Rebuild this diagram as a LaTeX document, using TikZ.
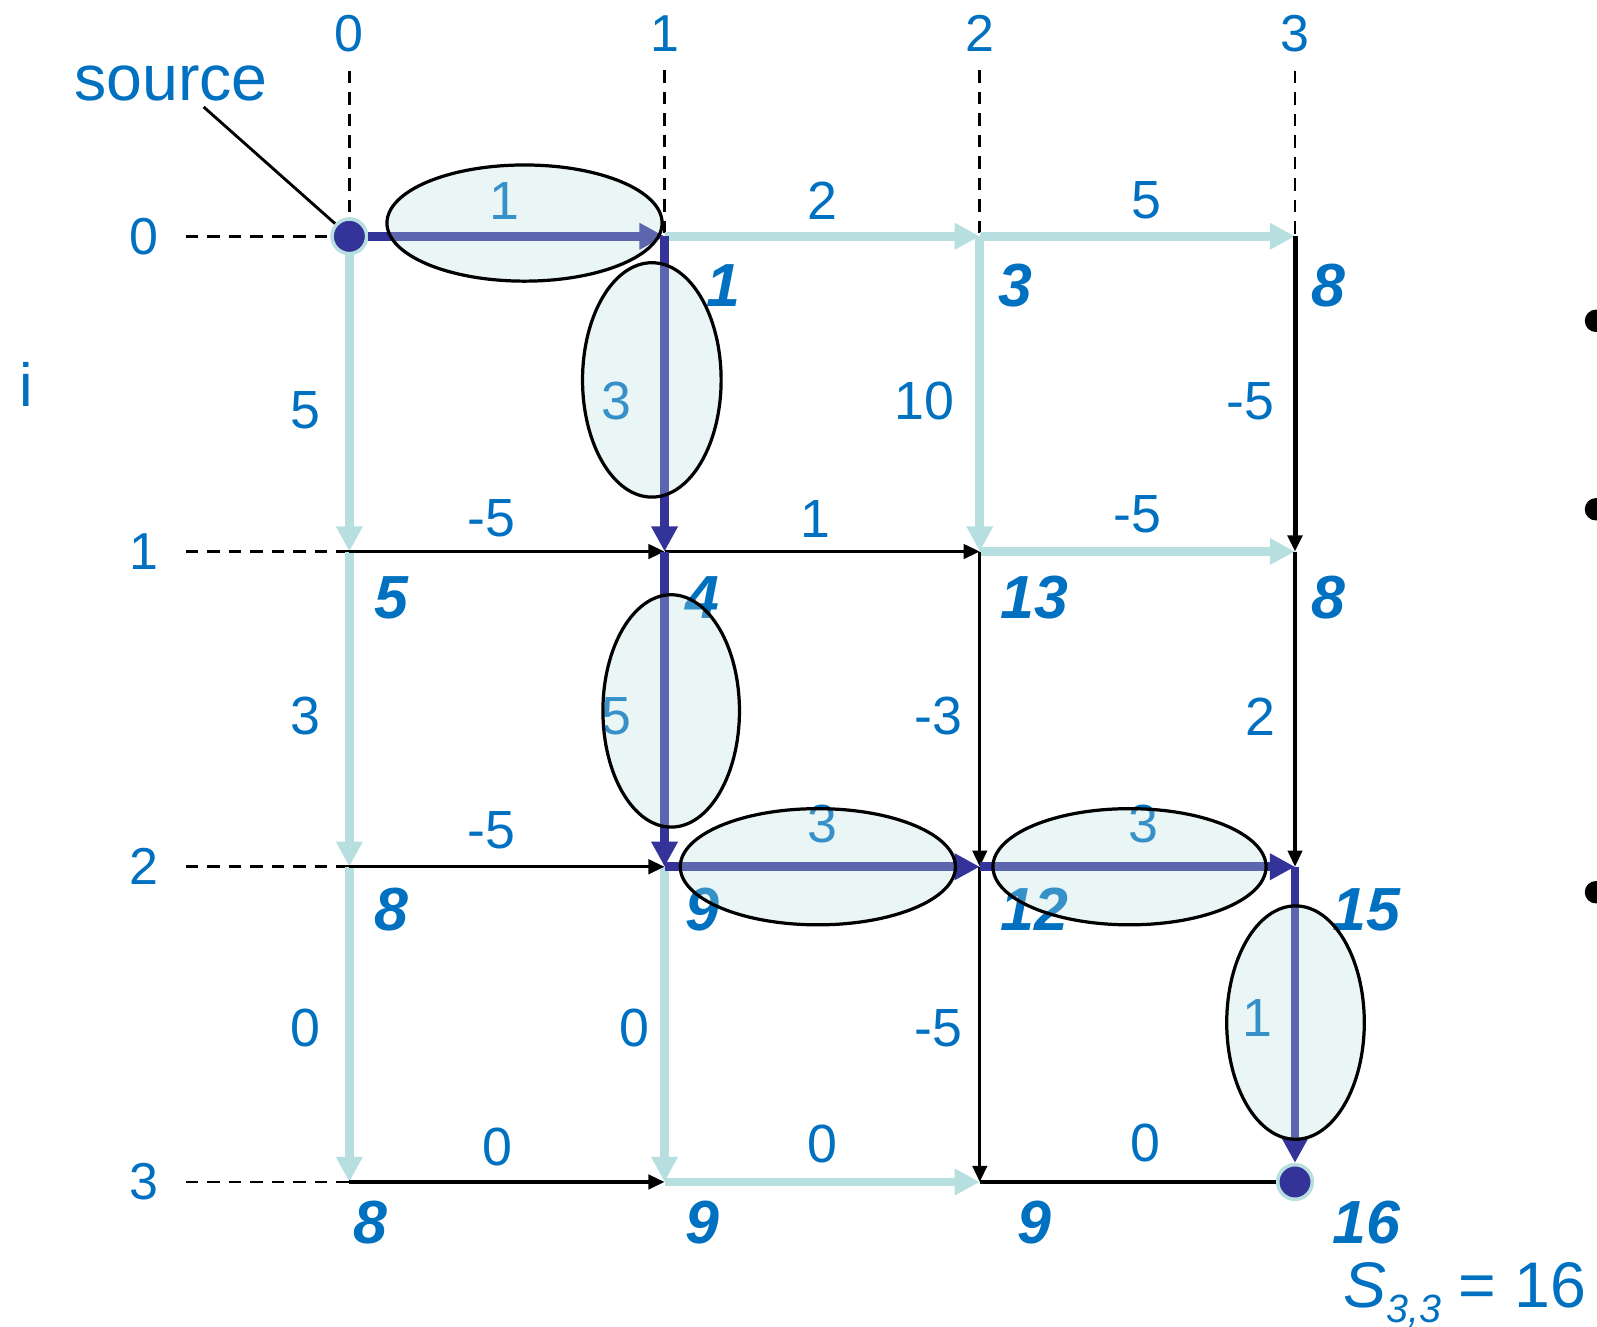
\documentclass[tikz,border=0pt]{standalone}
\usepackage{fontspec}
\setmainfont{Liberation Sans}
\usetikzlibrary{arrows.meta,positioning,shapes.geometric}
\definecolor{pathblue}{RGB}{51,51,153}
\definecolor{litedge}{RGB}{184,223,224}
\definecolor{labblue}{RGB}{0,112,192}

\begin{document}
\begin{tikzpicture}[
  x=0.01cm, y=-0.01cm,
  hfont/.style={text=labblue, inner sep=0pt, font=\fontsize{14.5}{15}\selectfont},
  wlab/.style={text=labblue, inner sep=0pt, font=\fontsize{15}{16}\selectfont},
  score/.style={text=labblue, inner sep=0pt, font=\fontsize{17}{18}\selectfont\bfseries\itshape},
  lite/.style={draw=litedge, line width=2.4pt, -{Triangle[length=7pt,width=7pt]}},
  best/.style={draw=pathblue, line width=2.4pt, -{Triangle[length=7pt,width=7pt]}},
  plain/.style={draw=black, line width=0.9pt, -{Triangle[length=4.5pt,width=4pt]}},
  guide/.style={draw=black, line width=0.75pt, dash pattern=on 3.5pt off 2.5pt},
  hl/.style={ellipse, draw=black, line width=0.9pt, fill=litedge, fill opacity=0.3, inner sep=0pt},
  endpt/.style={circle, fill=pathblue, draw=litedge, line width=1pt, minimum size=0.34cm, inner sep=0pt}
]
\useasboundingbox (0,0) rectangle (1568,1302);

% grid points
\foreach \i in {0,...,3}{
  \foreach \j in {0,...,3}{
    \coordinate (v\i\j) at ({343+309.5*\j},{232+309.5*\i});
  }
}

% headers
\foreach \j in {0,...,3}
  \node[hfont] (c\j) at ({343+309.5*\j},33) {\j};
\foreach \i in {0,...,3}
  \node[hfont] (r\i) at (141,{232+309.5*\i}) {\i};
\node[hfont, font=\fontsize{17}{18}\selectfont] (ilab) at (26,377) {i};
\node[text=labblue, inner sep=0pt, font=\fontsize{18}{19}\selectfont] (srclab) at (168,82) {source};

\node[endpt] (src) at (v00) {};
\node[endpt] (snk) at (v33) {};

% guides
\draw[guide] ([yshift=-5pt]c0.south) -- (src);
\draw[guide] ([yshift=-5pt]c1.south) -- (v01);
\draw[guide] ([yshift=-5pt]c2.south) -- (v02);
\draw[guide] ([yshift=-5pt]c3.south) -- (v03);
\draw[guide] ([xshift=7.5pt]r0.east) -- (src);
\draw[guide] ([xshift=7.5pt]r1.east) -- (v10);
\draw[guide] ([xshift=7.5pt]r2.east) -- (v20);
\draw[guide] ([xshift=7.5pt]r3.east) -- (v30);
\draw[line width=0.8pt] ([shift={(32,5)}]srclab.south) -- (src);

% light edges
\draw[lite] (v01) -- node[wlab, above=3.5pt] {2} (v02);
\draw[lite] (v02) -- node[wlab, above=3.5pt, pos=0.53] {5} (v03);
\draw[lite] (v12) -- node[wlab, above=4pt] {-5} (v13);
\draw[lite] (v31) -- node[wlab, above=4pt] {0} (v32);
\draw[lite] (src) -- node[wlab, left=7pt, yshift=-2pt] {5} (v10);
\draw[lite] (v10) -- node[wlab, left=7pt, yshift=-2pt] {3} (v20);
\draw[lite] (v20) -- node[wlab, left=7pt, yshift=-1pt] {0} (v30);
\draw[lite] (v21) -- node[wlab, left=3pt, yshift=-1pt] {0} (v31);
\draw[lite] (v02) -- node[wlab, left=6pt, yshift=-2pt] {10} (v12);

% black edges
\draw[plain] (v10) -- node[wlab, above=3.5pt, pos=0.45] {-5} (v11);
\draw[plain] (v11) -- node[wlab, above=3.5pt, pos=0.48] {1} (v12);
\draw[plain] (v20) -- node[wlab, above=4.5pt, pos=0.45] {-5} (v21);
\draw[plain] (v30) -- node[wlab, above=4pt, pos=0.47] {0} (v31);
\draw[plain, -] (v32) -- node[wlab, above=5pt, pos=0.56] {0} (snk);
\draw[plain] (v12) -- node[wlab, left=4.5pt, yshift=-2pt] {-3} (v22);
\draw[plain] (v22) -- node[wlab, left=4.5pt, yshift=-1pt] {-5} (v32);
\draw[plain, line width=1.4pt] (v03) -- node[wlab, left=5pt, yshift=-2pt] {-5} (v13);
\draw[plain] (v13) -- node[wlab, left=5pt, yshift=-2pt] {2} (v23);

% best path
\draw[best] (src) -- node[wlab, above=3.5pt, pos=0.46] {1} (v01);
\draw[best] (v01) -- node[wlab, left=8pt, yshift=-2pt] {3} (v11);
\draw[best] (v11) -- node[wlab, left=8pt, yshift=-2pt] {5} (v21);
\draw[best] (v21) -- node[wlab, above=5.5pt] {3} (v22);
\draw[best] (v22) -- node[wlab, above=5.5pt, pos=0.52] {3} (v23);
\draw[best] (v23) -- node[wlab, left=5pt, yshift=-1pt] {1} (snk);

% scores
\node[score] (s01) at (710,280) {1};
\node[score] (s02) at (997,280) {3};
\node[score] (s03) at (1304,280) {8};
\node[score] (s10) at (384,587) {5};
\node[score] (s11) at (690,587) {4};
\node[score] (s12) at (1016,587) {13};
\node[score] (s13) at (1304,587) {8};
\node[score] (s20) at (384,893) {8};
\node[score] (s21) at (690,893) {9};
\node[score] (s22) at (1016,893) {12};
\node[score] (s23) at (1342,893) {15};
\node[score] (s30) at (364,1200) {8};
\node[score] (s31) at (690,1200) {9};
\node[score] (s32) at (1016,1200) {9};
\node[score] (s33) at (1342,1200) {16};

\node[text=labblue, inner sep=0pt, anchor=base east, font=\fontsize{18}{19}\selectfont] (res) at (1558,1284)
  {\textit{S}\raisebox{-4pt}{\fontsize{11}{12}\selectfont\itshape 3,3} = 16};

% highlighted steps
\node[hl, minimum width=2.7cm, minimum height=1.14cm] (e1) at (515,219) {};
\node[hl, minimum width=1.36cm, minimum height=2.30cm] (e2) at (640,373) {};
\node[hl, minimum width=1.34cm, minimum height=2.28cm] (e3) at (659,698) {};
\node[hl, minimum width=2.7cm, minimum height=1.14cm] (e4) at (803,851) {};
\node[hl, minimum width=2.68cm, minimum height=1.14cm] (e5) at (1109,851) {};
\node[hl, minimum width=1.35cm, minimum height=2.29cm] (e6) at (1272,1004) {};

% bullets cut at the edge
\foreach \y/\n in {315/1,500/2,876/3}
  \node[circle, fill=black, inner sep=0pt, minimum size=0.22cm] (b\n) at (1567,\y) {};
\end{tikzpicture}
\end{document}
